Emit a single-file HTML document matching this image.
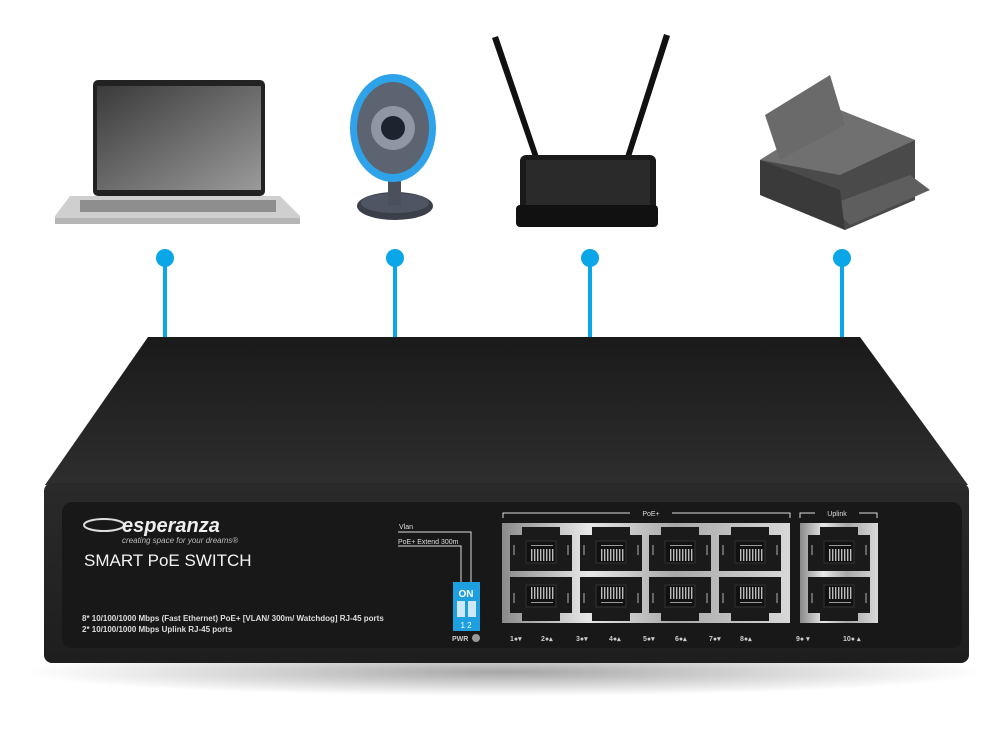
<!DOCTYPE html>
<html><head><meta charset="utf-8"><style>
html,body{margin:0;padding:0;background:#fff}
svg{display:block}
text{font-family:"Liberation Sans",sans-serif}
</style></head><body>
<svg width="1000" height="740" viewBox="0 0 1000 740" xmlns="http://www.w3.org/2000/svg">
<defs>
<linearGradient id="top" x1="0" y1="0" x2="0" y2="1"><stop offset="0" stop-color="#1a1a1a"/><stop offset="1" stop-color="#2e2e2e"/></linearGradient>
<linearGradient id="front" x1="0" y1="0" x2="0" y2="1"><stop offset="0" stop-color="#2a2a2a"/><stop offset="1" stop-color="#1e1e1e"/></linearGradient>
<linearGradient id="metal" x1="0" y1="0" x2="1" y2="0"><stop offset="0" stop-color="#8a8a8a"/><stop offset="0.3" stop-color="#e8e8e8"/><stop offset="0.6" stop-color="#a8a8a8"/><stop offset="1" stop-color="#d8d8d8"/></linearGradient>
<linearGradient id="screen" x1="0" y1="0" x2="1" y2="1"><stop offset="0" stop-color="#3a3a3a"/><stop offset="1" stop-color="#9a9a9a"/></linearGradient>
<radialGradient id="shadow" cx="0.5" cy="0.5" r="0.5"><stop offset="0" stop-color="#000" stop-opacity="0.35"/><stop offset="1" stop-color="#000" stop-opacity="0"/></radialGradient>
<g id="port">
<path d="M0 8 h12 v-8 h38 v8 h12 v36 h-12 v-0 h-38 v0 h-12z" fill="#1a1a1a"/>
<rect x="16" y="14" width="30" height="22" fill="#111" stroke="#333"/>
<g fill="#bbb"><rect x="21" y="22" width="1.4" height="12"/><rect x="24" y="22" width="1.4" height="12"/><rect x="27" y="22" width="1.4" height="12"/><rect x="30" y="22" width="1.4" height="12"/><rect x="33" y="22" width="1.4" height="12"/><rect x="36" y="22" width="1.4" height="12"/><rect x="39" y="22" width="1.4" height="12"/><rect x="42" y="22" width="1.4" height="12"/></g>
<rect x="21" y="18" width="22" height="1" fill="#999"/>
<rect x="3" y="18" width="2" height="10" fill="#666"/><rect x="57" y="18" width="2" height="10" fill="#666"/>
</g>
</defs>

<!-- laptop -->
<rect x="93" y="80" width="172" height="116" rx="5" fill="#222"/>
<rect x="97" y="86" width="164" height="104" fill="url(#screen)"/>
<path d="M70 196 h210 l20 20 v6 h-245 v-6 z" fill="#cfcfcf"/>
<rect x="80" y="200" width="196" height="12" fill="#8e8e8e"/>
<rect x="55" y="218" width="245" height="6" fill="#b5b5b5"/>

<!-- webcam -->
<ellipse cx="395" cy="206" rx="38" ry="14" fill="#3a3f4a"/>
<ellipse cx="395" cy="203" rx="34" ry="10" fill="#4f5562"/>
<rect x="388" y="160" width="13" height="45" fill="#4a505c"/>
<ellipse cx="393" cy="128" rx="43" ry="54" fill="#2ea3ea"/>
<ellipse cx="393" cy="128" rx="36" ry="46" fill="#5b6470"/>
<circle cx="393" cy="128" r="22" fill="#8e97a3"/>
<circle cx="393" cy="128" r="12" fill="#1c2430"/>

<!-- router -->
<polygon points="492,38 498,36 540,160 534,160" fill="#111"/>
<polygon points="664,34 670,36 630,160 624,160" fill="#111"/>
<rect x="520" y="155" width="136" height="72" rx="6" fill="#1a1a1a"/>
<rect x="526" y="160" width="124" height="48" fill="#2a2a2a"/>
<rect x="516" y="205" width="142" height="22" rx="4" fill="#111"/>

<!-- printer -->
<polygon points="760,160 840,110 915,140 915,200 845,230 760,190" fill="#4a4a4a"/>
<polygon points="760,160 840,110 915,140 840,175" fill="#707070"/>
<polygon points="765,115 830,75 845,125 780,160" fill="#6a6a6a"/>
<polygon points="830,205 910,175 930,190 850,225" fill="#5e5e5e"/>
<polygon points="760,160 840,190 845,230 760,195" fill="#3a3a3a"/>

<!-- connectors -->
<g stroke="#0aa6e8" stroke-width="4"><line x1="165" y1="258" x2="165" y2="340"/><line x1="395" y1="258" x2="395" y2="340"/><line x1="590" y1="258" x2="590" y2="340"/><line x1="842" y1="258" x2="842" y2="340"/></g>
<g fill="#0aa6e8"><circle cx="165" cy="258" r="9"/><circle cx="395" cy="258" r="9"/><circle cx="590" cy="258" r="9"/><circle cx="842" cy="258" r="9"/></g>

<!-- shadow -->
<ellipse cx="505" cy="672" rx="480" ry="24" fill="url(#shadow)"/>

<!-- switch -->
<polygon points="148,337 860,337 968,485 45,485" fill="url(#top)"/>
<rect x="44" y="483" width="925" height="180" rx="8" fill="url(#front)"/>
<rect x="62" y="502" width="900" height="146" rx="10" fill="#181818"/>

<ellipse cx="104" cy="525" rx="20" ry="6" fill="none" stroke="#ddd" stroke-width="2"/>
<text x="122" y="532" font-size="20" font-weight="bold" font-style="italic" fill="#eee">esperanza</text>
<text x="122" y="543" font-size="8" font-style="italic" fill="#bbb">creating space for your dreams®</text>
<text x="84" y="566" font-size="17" fill="#f2f2f2">SMART PoE SWITCH</text>
<text x="82" y="621" font-size="8" font-weight="bold" fill="#ddd">8* 10/100/1000 Mbps (Fast Ethernet) PoE+ [VLAN/ 300m/ Watchdog] RJ-45 ports</text>
<text x="82" y="632" font-size="8" font-weight="bold" fill="#ddd">2* 10/100/1000 Mbps Uplink RJ-45 ports</text>

<text x="399" y="529" font-size="7" fill="#ddd">Vlan</text>
<text x="398" y="544" font-size="7" fill="#ddd">PoE+ Extend 300m</text>
<polyline points="398,532 471,532 471,582" fill="none" stroke="#ddd" stroke-width="1"/>
<polyline points="398,546 461,546 461,582" fill="none" stroke="#ddd" stroke-width="1"/>
<rect x="453" y="582" width="27" height="49" fill="#1ea0e0"/>
<text x="466" y="597" font-size="10" font-weight="bold" fill="#fff" text-anchor="middle">ON</text>
<rect x="457" y="601" width="8" height="16" fill="#cfe8f5"/><rect x="468" y="601" width="8" height="16" fill="#cfe8f5"/>
<text x="466" y="628" font-size="8" fill="#fff" text-anchor="middle">1 2</text>
<text x="452" y="641" font-size="7" font-weight="bold" fill="#ccc">PWR</text>
<circle cx="476" cy="638" r="4" fill="#999"/>

<polyline points="503,518 503,513 630,513" fill="none" stroke="#ddd"/>
<polyline points="672,513 790,513 790,518" fill="none" stroke="#ddd"/>
<text x="651" y="516" font-size="7" fill="#ddd" text-anchor="middle">PoE+</text>
<polyline points="800,518 800,513 815,513" fill="none" stroke="#ddd"/>
<polyline points="859,513 877,513 877,518" fill="none" stroke="#ddd"/>
<text x="837" y="516" font-size="7" fill="#ddd" text-anchor="middle">Uplink</text>

<rect x="502" y="523" width="288" height="100" fill="url(#metal)"/>
<rect x="800" y="523" width="78" height="100" fill="url(#metal)"/>
<use href="#port" x="510" y="527"/><use href="#port" x="580" y="527"/><use href="#port" x="649" y="527"/><use href="#port" x="719" y="527"/>
<use href="#port" x="808" y="527"/>
<g transform="translate(0,1194) scale(1,-1)">
<use href="#port" x="510" y="573"/><use href="#port" x="580" y="573"/><use href="#port" x="649" y="573"/><use href="#port" x="719" y="573"/><use href="#port" x="808" y="573"/>
</g>

<g font-size="7" fill="#ccc" font-weight="bold">
<text x="510" y="641">1●▾</text><text x="541" y="641">2●▴</text><text x="576" y="641">3●▾</text><text x="609" y="641">4●▴</text>
<text x="643" y="641">5●▾</text><text x="675" y="641">6●▴</text><text x="709" y="641">7●▾</text><text x="740" y="641">8●▴</text>
<text x="796" y="641">9● ▾</text><text x="843" y="641">10● ▴</text>
</g>
</svg>
</body></html>
